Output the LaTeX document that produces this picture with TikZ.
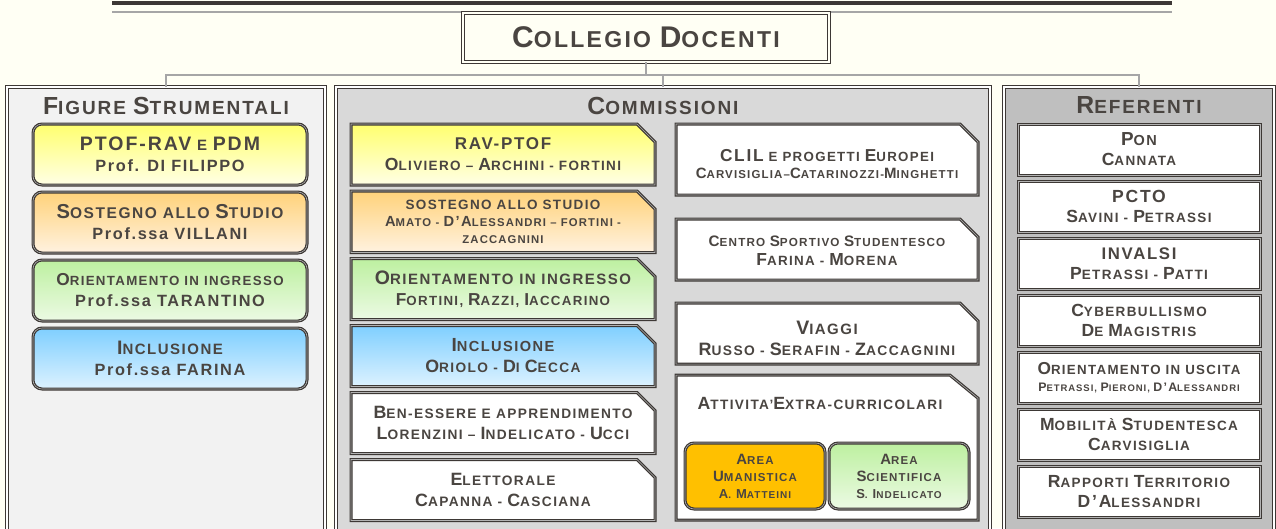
\documentclass[tikz,border=0pt]{standalone}
\usepackage{fontspec}
\setmainfont{Liberation Sans}[LetterSpace=10]
\usepackage{graphicx}
\usetikzlibrary{positioning,shapes.misc}

\definecolor{ink}{HTML}{4A4541}
\definecolor{edge}{HTML}{3D3835}
\definecolor{paper}{HTML}{FFFFF4}
\definecolor{wire}{HTML}{A6A6A6}
\definecolor{figfill}{HTML}{F2F2F2}
\definecolor{comfill}{HTML}{D9D9D9}
\definecolor{reffill}{HTML}{BFBFBF}
\definecolor{ambra}{HTML}{FFC000}
\definecolor{gialloA}{HTML}{FFFF6E}
\definecolor{gialloB}{HTML}{FFFFE6}
\definecolor{aranA}{HTML}{FFD27A}
\definecolor{aranB}{HTML}{FFF2E0}
\definecolor{verdeA}{HTML}{BDF0A0}
\definecolor{verdeB}{HTML}{ECFAE4}
\definecolor{azzA}{HTML}{7FCFFF}
\definecolor{azzB}{HTML}{DDF2FF}

\newcommand{\up}[1]{\scalebox{1.3}{#1}}
\newcommand{\fs}[2]{\fontsize{#1}{#2}\selectfont}

\begin{document}
\begin{tikzpicture}[x=1pt,y=-1pt,
    every node/.style={text=ink,inner sep=0pt,outer sep=0pt,align=center},
    frame/.style={draw=edge,line width=1.3pt,double distance=1.4pt},
    panel/.style={frame,anchor=north west,minimum height=470pt},
    ptitle/.style={font=\bfseries\fs{19}{22}},
    bevel/.style={draw=edge,line width=1.2pt,double=gray!60,double distance=0.6pt},
    pill/.style={bevel,rounded corners=9pt,minimum width=274pt,minimum height=61pt,font=\bfseries\fs{15}{21}},
    tab/.style={bevel,fill=white,chamfered rectangle,chamfered rectangle corners=north east,
        chamfered rectangle xsep=9pt,chamfered rectangle ysep=9pt,
        minimum width=304pt,minimum height=61pt,font=\bfseries\fs{13.7}{21}},
    card/.style={bevel,fill=white,minimum width=242pt,minimum height=51pt,font=\bfseries\fs{13.5}{20}},
    area/.style={bevel,rounded corners=9pt,minimum width=140pt,minimum height=66pt,font=\bfseries\fs{11.5}{17}},
    giallo/.style={top color=gialloA,bottom color=gialloB},
    arancio/.style={top color=aranA,bottom color=aranB},
    verde/.style={top color=verdeA,bottom color=verdeB},
    azzurro/.style={top color=azzA,bottom color=azzB},
    link/.style={draw=wire,line width=1.5pt}
  ]
  \useasboundingbox (0,0) rectangle (1276,528);
  \clip (0,0) rectangle (1276,528);
  \fill[paper] (0,0) rectangle (1276,528);

  % top rules
  \draw[edge,line width=4pt] (112,3) -- (1172,3);
  \draw[wire,line width=2pt] (112,12) -- (1172,12);

  % Collegio
  \node[frame,double=paper,fill=paper,minimum width=366pt,minimum height=49pt,font=\bfseries\fs{23}{25}] (coll) at (646,37.5) {\up{C}OLLEGIO \up{D}OCENTI};

  % the three panels
  \node[panel,double=white,fill=figfill,minimum width=318pt] (fig) at (7,87) {};
  \node[panel,double=white,fill=comfill,minimum width=654pt] (com) at (336,87) {};
  \node[panel,double=white,fill=reffill,minimum width=270pt] (ref) at (1004,87) {};
  \node[ptitle,below=10pt of fig.north] (figt) {\up{F}IGURE \up{S}TRUMENTALI};
  \node[ptitle,below=10pt of com.north] (comt) {\up{C}OMMISSIONI};
  \node[ptitle,below=10pt of ref.north] (reft) {\up{R}EFERENTI};

  % links
  \draw[link] (coll.south) -- ++(0,13) coordinate (hub);
  \draw[link] (hub) -| (fig.north);
  \draw[link] (hub) -| (com.north);
  \draw[link] (hub) -| (ref.north);

  % Figure strumentali
  \node[pill,giallo,anchor=north west] (fs1) at (33,124) {\up{PTOF-RAV} E \up{PDM}\\{\fs{16.3}{21}Prof. DI FILIPPO}};
  \node[pill,arancio,below=7pt of fs1,font=\bfseries\fs{15.5}{21}] (fs2) {\up{S}OSTEGNO ALLO \up{S}TUDIO\\{\fs{16.3}{21}Prof.ssa VILLANI}};
  \node[pill,verde,below=7pt of fs2,font=\bfseries\fs{13.3}{21}] (fs3) {\up{O}RIENTAMENTO IN INGRESSO\\{\fs{16.3}{21}Prof.ssa TARANTINO}};
  \node[pill,azzurro,below=7pt of fs3] (fs4) {\up{I}NCLUSIONE\\{\fs{16.3}{21}Prof.ssa FARINA}};

  % Commissioni, first column
  \node[tab,giallo,anchor=north west,font=\bfseries\fs{13.5}{21}] (cm1) at (351,124) {{\fs{17}{21}RAV-PTOF}\\\up{O}LIVIERO -- \up{A}RCHINI - FORTINI};
  \node[tab,arancio,below=6pt of cm1,font=\bfseries\fs{11.3}{17}] (cm2) {{\fs{13.5}{17}SOSTEGNO ALLO STUDIO}\\\up{A}MATO - \up{D'A}LESSANDRI -- FORTINI -\\ZACCAGNINI};
  \node[tab,verde,below=6pt of cm2,font=\bfseries\fs{13.3}{21}] (cm3) {{\fs{15}{21}\up{O}RIENTAMENTO IN INGRESSO}\\\up{F}ORTINI, \up{R}AZZI, \up{I}ACCARINO};
  \node[tab,azzurro,below=6pt of cm3] (cm4) {{\fs{14.6}{21}\up{I}NCLUSIONE}\\\up{O}RIOLO - \up{D}I \up{C}ECCA};
  \node[tab,below=6pt of cm4] (cm5) {\up{B}EN-ESSERE E APPRENDIMENTO\\\up{L}ORENZINI -- \up{I}NDELICATO - \up{U}CCI};
  \node[tab,below=6pt of cm5] (cm6) {\up{E}LETTORALE\\\up{C}APANNA - \up{C}ASCIANA};

  % Commissioni, second column
  \node[tab,minimum width=302pt,minimum height=71pt,anchor=north west,font=\bfseries\fs{11.5}{17}] (cr1) at (676,124) {{\fs{13.3}{17}\rule{0pt}{21pt}\up{CLIL} E PROGETTI \up{E}UROPEI}\\\up{C}ARVISIGLIA--\up{C}ATARINOZZI-\up{M}INGHETTI};
  \node[tab,minimum width=302pt,below=24pt of cr1,font=\bfseries\fs{13.4}{19}] (cr2) {{\fs{11.7}{19}\rule{0pt}{14pt}\up{C}ENTRO \up{S}PORTIVO \up{S}TUDENTESCO}\\\up{F}ARINA - \up{M}ORENA};
  \node[tab,minimum width=302pt,below=23pt of cr2,font=\bfseries\fs{13.8}{21}] (cr3) {{\fs{15}{21}\rule{0pt}{22pt}\up{V}IAGGI}\\\up{R}USSO - \up{S}ERAFIN - \up{Z}ACCAGNINI};
  \node[minimum width=302pt,minimum height=145pt,below=11pt of cr3] (cr4) {};
  \draw[bevel,fill=white] (cr4.south west) -- (cr4.north west) -- ([xshift=-28pt]cr4.north east)
      -- ([yshift=-23pt]cr4.north east) -- (cr4.south east) -- cycle;
  \node[below=22pt of cr4.north,xshift=-7pt,font=\bfseries\fs{13.6}{15}] (cr4t) {\up{A}TTIVITA'\up{E}XTRA-CURRICOLARI};
  \node[area,fill=ambra,anchor=north west] (um) at (685,443) {\up{A}REA\\\up{U}MANISTICA\\{\fs{10}{15}\up{A}. \up{M}ATTEINI}};
  \node[area,verde,right=4pt of um] (sc) {\up{A}REA\\\up{S}CIENTIFICA\\{\fs{10}{15}\up{S}. \up{I}NDELICATO}};

  % Referenti
  \node[card,anchor=north west] (rf1) at (1018,124) {{\fs{14.5}{20}\up{P}ON}\\\up{C}ANNATA};
  \node[card,below=6pt of rf1] (rf2) {\up{PCTO}\\\up{S}AVINI - \up{P}ETRASSI};
  \node[card,below=6pt of rf2] (rf3) {{\fs{12.9}{20}\up{INVALSI}}\\\up{P}ETRASSI - \up{P}ATTI};
  \node[card,below=6pt of rf3] (rf4) {\up{C}YBERBULLISMO\\\up{D}E \up{M}AGISTRIS};
  \node[card,below=6pt of rf4,font=\bfseries\fs{13.3}{17}] (rf5) {\up{O}RIENTAMENTO IN USCITA\\{\fs{9.5}{17}\up{P}ETRASSI, \up{P}IERONI, \up{D'A}LESSANDRI}};
  \node[card,below=6pt of rf5] (rf6) {\up{M}OBILITÀ \up{S}TUDENTESCA\\\up{C}ARVISIGLIA};
  \node[card,below=6pt of rf6] (rf7) {\up{R}APPORTI \up{T}ERRITORIO\\\up{D'A}LESSANDRI};
\end{tikzpicture}
\end{document}
